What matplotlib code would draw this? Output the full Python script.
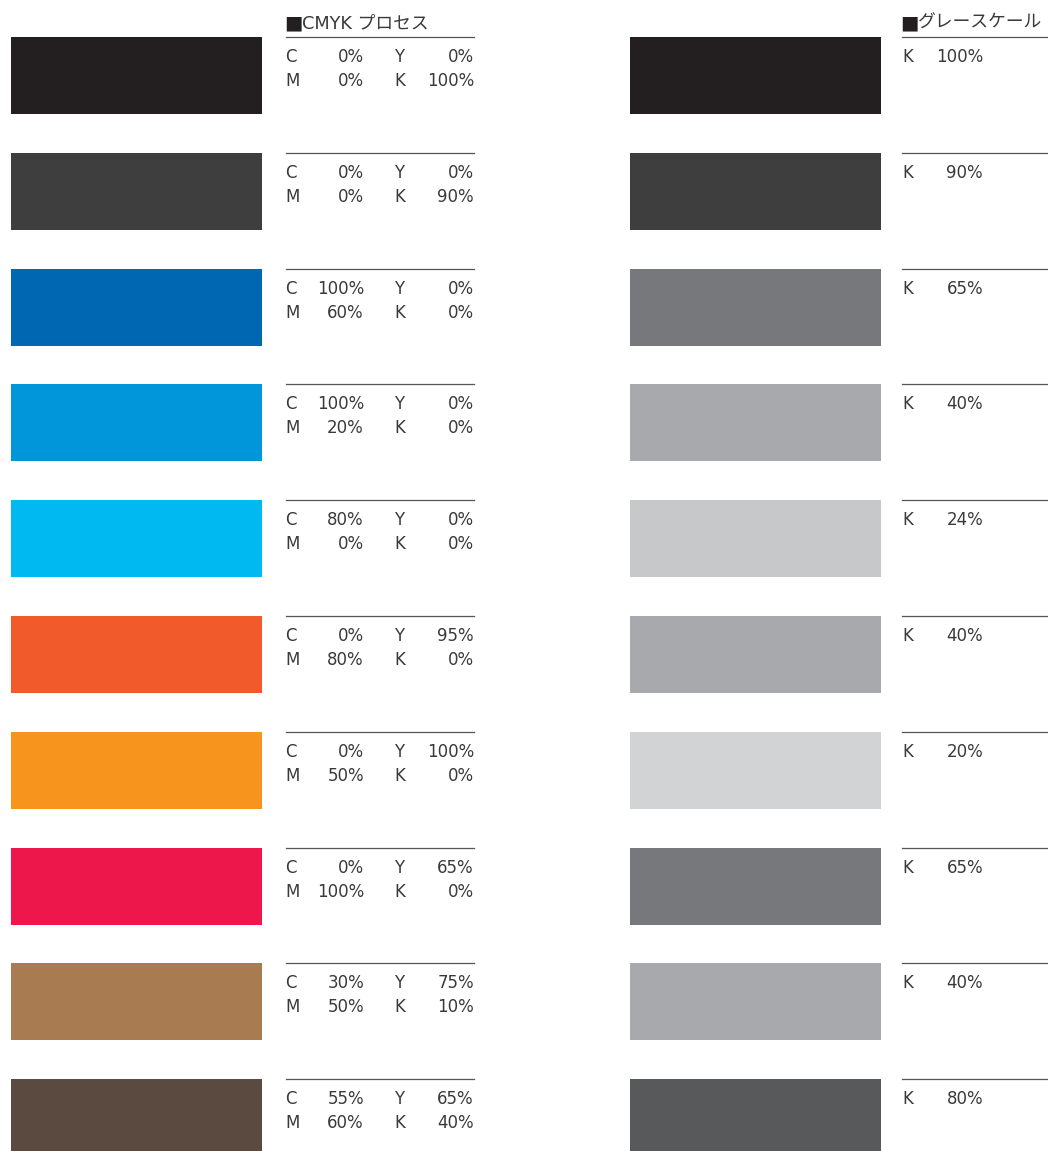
import matplotlib
matplotlib.use('Agg')
from matplotlib import pyplot as plt

plt.rcParams['font.family'] = ['DejaVu Sans', 'Noto Sans CJK JP']

# swatch data
cmyk_colors = ['#231f20', '#3f3e3f', '#0067b3', '#0096d9', '#00b9f1',
               '#f15a2b', '#f7941e', '#ed174b', '#a87c50', '#5a4a40']
cmyk_c = ['0%', '0%', '100%', '100%', '80%', '0%', '0%', '0%', '30%', '55%']
cmyk_m = ['0%', '0%', '60%', '20%', '0%', '80%', '50%', '100%', '50%', '60%']
cmyk_y = ['0%', '0%', '0%', '0%', '0%', '95%', '100%', '65%', '75%', '65%']
cmyk_k = ['100%', '90%', '0%', '0%', '0%', '0%', '0%', '0%', '10%', '40%']

grey_colors = ['#231f20', '#3f3e3f', '#77787b', '#a7a9ac', '#c7c8ca',
               '#a7a9ac', '#d1d3d4', '#77787b', '#a7a9ac', '#58595b']
grey_k = ['100%', '90%', '65%', '40%', '24%', '40%', '20%', '65%', '40%', '80%']

W, H = 1048, 1151
fig = plt.figure(figsize=(W / 100, H / 100), dpi=100)
ax = fig.add_axes([0, 0, 1, 1])
ax.set_xlim(0, W)
ax.set_ylim(H, 0)
ax.axis('off')

top0, step, sh = 37, 115.8, 77
tops = [top0 + i * step for i in range(len(cmyk_colors))]
fs = 12
tc = '#3a3a3a'

# swatches
ax.bar([136.5] * len(tops), [sh] * len(tops), width=251, bottom=tops,
       color=cmyk_colors, align='center')
ax.bar([755.5] * len(tops), [sh] * len(tops), width=251, bottom=tops,
       color=grey_colors, align='center')

# headers, baseline aligned
ax.text(284, 28, '■', fontsize=14, color='#231f20', va='baseline', ha='left')
ax.text(302, 28, 'CMYK プロセス', fontsize=12.8, color=tc, va='baseline', ha='left')
ax.text(900, 28, '■', fontsize=14, color='#231f20', va='baseline', ha='left')
ax.text(918, 28, 'グレースケール', fontsize=12.8, color=tc, va='baseline', ha='left')

for i, t in enumerate(tops):
    ax.plot([286, 474], [t, t], color='#555555', lw=0.9)
    ax.plot([902, 1047], [t, t], color='#555555', lw=0.9)
    r1, r2 = t + 20, t + 44
    ax.text(285, r1, 'C', fontsize=fs, color=tc, va='center', ha='left')
    ax.text(364, r1, cmyk_c[i], fontsize=fs, color=tc, va='center', ha='right')
    ax.text(394, r1, 'Y', fontsize=fs, color=tc, va='center', ha='left')
    ax.text(474, r1, cmyk_y[i], fontsize=fs, color=tc, va='center', ha='right')
    ax.text(285, r2, 'M', fontsize=fs, color=tc, va='center', ha='left')
    ax.text(364, r2, cmyk_m[i], fontsize=fs, color=tc, va='center', ha='right')
    ax.text(394, r2, 'K', fontsize=fs, color=tc, va='center', ha='left')
    ax.text(474, r2, cmyk_k[i], fontsize=fs, color=tc, va='center', ha='right')
    ax.text(902, r1, 'K', fontsize=fs, color=tc, va='center', ha='left')
    ax.text(983, r1, grey_k[i], fontsize=fs, color=tc, va='center', ha='right')

fig.savefig('out.png', dpi=100)
